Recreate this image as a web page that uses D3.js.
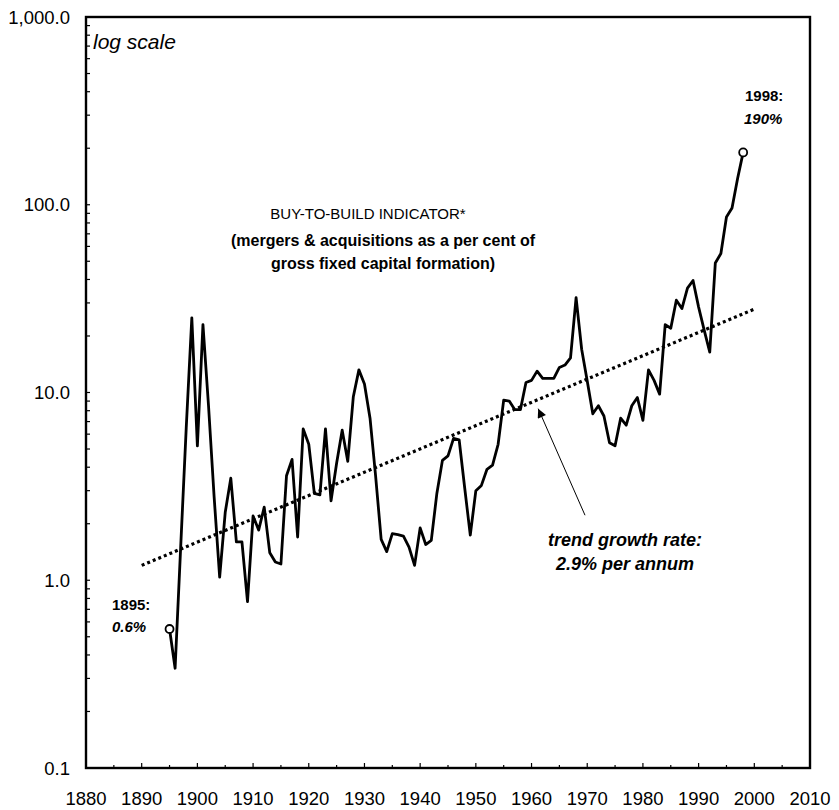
<!DOCTYPE html>
<html>
<head>
<meta charset="utf-8">
<script src="https://cdn.jsdelivr.net/npm/d3@7"></script>
<style>
  body { margin: 0; background: #fff; }
  svg text { font-family: "Liberation Sans", Arial, sans-serif; fill: #000; }
</style>
</head>
<body>
<div id="chart"></div>
<script>
const width = 839;
const height = 810;

// Séries
const years = [
  1895, 1896, 1897, 1898, 1899, 1900, 1901, 1902, 1903, 1904,
  1905, 1906, 1907, 1908, 1909, 1910, 1911, 1912, 1913, 1914,
  1915, 1916, 1917, 1918, 1919, 1920, 1921, 1922, 1923, 1924,
  1925, 1926, 1927, 1928, 1929, 1930, 1931, 1932, 1933, 1934,
  1935, 1936, 1937, 1938, 1939, 1940, 1941, 1942, 1943, 1944,
  1945, 1946, 1947, 1948, 1949, 1950, 1951, 1952, 1953, 1954,
  1955, 1956, 1957, 1958, 1959, 1960, 1961, 1962, 1963, 1964,
  1965, 1966, 1967, 1968, 1969, 1970, 1971, 1972, 1973, 1974,
  1975, 1976, 1977, 1978, 1979, 1980, 1981, 1982, 1983, 1984,
  1985, 1986, 1987, 1988, 1989, 1990, 1991, 1992, 1993, 1994,
  1995, 1996, 1997, 1998
];
const buyToBuild = [
  0.55, 0.34, 1.5, 6.5, 25, 5.2, 23, 8.5, 2.8, 1.04,
  2.3, 3.5, 1.6, 1.6, 0.77, 2.2, 1.85, 2.45, 1.4, 1.25,
  1.22, 3.6, 4.4, 1.7, 6.4, 5.3, 2.9, 2.85, 6.4, 2.65,
  4.2, 6.3, 4.3, 9.5, 13.2, 11.1, 7.3, 3.6, 1.65, 1.42,
  1.77, 1.75, 1.72, 1.5, 1.2, 1.9, 1.55, 1.63, 2.9, 4.35,
  4.6, 5.7, 5.6, 3.1, 1.74, 3.0, 3.2, 3.9, 4.1, 5.3,
  9.1, 9.0, 8.1, 8.1, 11.3, 11.6, 13.0, 11.9, 11.9, 11.9,
  13.6, 14.0, 15.3, 32, 17, 11.5, 7.7, 8.5, 7.5, 5.4,
  5.2, 7.3, 6.7, 8.5, 9.4, 7.1, 13.2, 11.6, 9.8, 23,
  22, 31, 28, 36, 39.5, 28.5, 21.5, 16.4, 49, 55,
  86, 96, 138, 190
];

// Tendance : 2,9 % par an
const trendYears = [1890, 2000];
const trendValues = [1.2, 27.8];

const yTicks = [0.1, 1, 10, 100, 1000];
const xTicks = d3.range(1880, 2011, 10);

const data = years.map((y, i) => ({ year: y, value: buyToBuild[i] }));

const svg = d3.select("#chart")
  .append("svg")
  .attr("width", width)
  .attr("height", height);

const x = d3.scaleLinear().domain([1880, 2010]).range([86, 810]);
const y = d3.scaleLog().domain([0.1, 1000]).range([768, 17]);

// Graduations mineures (log) sur l'axe vertical
const minorY = [];
[0.1, 1, 10, 100].forEach(d => {
  for (let k = 1; k <= 9; k++) minorY.push(d * k);
});
svg.append("g")
  .selectAll("line")
  .data(minorY)
  .join("line")
  .attr("x1", x(1880)).attr("x2", x(1880) + 4)
  .attr("y1", d => y(d)).attr("y2", d => y(d))
  .attr("stroke", "#000").attr("stroke-width", 1.2);

// Graduations horizontales tous les 5 ans
svg.append("g")
  .selectAll("line")
  .data(d3.range(1880, 2011, 5))
  .join("line")
  .attr("x1", d => x(d)).attr("x2", d => x(d))
  .attr("y1", y(0.1)).attr("y2", d => y(0.1) - (d % 10 === 0 ? 5 : 3))
  .attr("stroke", "#000").attr("stroke-width", 1.2);

// Cadre
svg.append("rect")
  .attr("x", x(1880)).attr("y", y(1000))
  .attr("width", x(2010) - x(1880))
  .attr("height", y(0.1) - y(1000))
  .attr("fill", "none")
  .attr("stroke", "#000")
  .attr("stroke-width", 2.4);

// Libellés des axes
svg.append("g")
  .selectAll("text")
  .data(yTicks)
  .join("text")
  .attr("x", 70)
  .attr("y", d => y(d) + 6.5)
  .attr("text-anchor", "end")
  .style("font-size", "18.5px")
  .text(d => d3.format(",.1f")(d));

svg.append("g")
  .selectAll("text")
  .data(xTicks)
  .join("text")
  .attr("x", d => x(d))
  .attr("y", 805)
  .attr("text-anchor", "middle")
  .style("font-size", "18.5px")
  .text(d => d);

// Ligne de tendance pointillée
const line = d3.line().x(d => x(d.year)).y(d => y(d.value));

svg.append("path")
  .datum(trendYears.map((t, i) => ({ year: t, value: trendValues[i] })))
  .attr("d", line)
  .attr("fill", "none")
  .attr("stroke", "#000")
  .attr("stroke-width", 3.2)
  .attr("stroke-dasharray", "3,3");

// Série principale
svg.append("path")
  .datum(data)
  .attr("d", line)
  .attr("fill", "none")
  .attr("stroke", "#000")
  .attr("stroke-width", 2.8)
  .attr("stroke-linejoin", "round");

// Points extrêmes
svg.append("g")
  .selectAll("circle")
  .data([data[0], data[data.length - 1]])
  .join("circle")
  .attr("cx", d => x(d.year))
  .attr("cy", d => y(d.value))
  .attr("r", 4)
  .attr("fill", "#fff")
  .attr("stroke", "#000")
  .attr("stroke-width", 1.8);

// Flèche vers la tendance
svg.append("defs").append("marker")
  .attr("id", "arrow")
  .attr("viewBox", "0 0 10 10")
  .attr("refX", 10).attr("refY", 5)
  .attr("markerWidth", 11).attr("markerHeight", 9)
  .attr("markerUnits", "userSpaceOnUse")
  .attr("orient", "auto")
  .append("path")
  .attr("d", "M0,0 L10,5 L0,10 Z")
  .attr("fill", "#000");

svg.append("line")
  .attr("x1", x(1969.6)).attr("y1", y(2.22))
  .attr("x2", x(1961.2)).attr("y2", y(8.2))
  .attr("stroke", "#000")
  .attr("stroke-width", 1)
  .attr("marker-end", "url(#arrow)");

// Textes
svg.append("text")
  .attr("x", 93).attr("y", 49)
  .style("font-size", "21px").style("font-style", "italic")
  .text("log scale");

svg.append("text")
  .attr("x", 368).attr("y", 219)
  .attr("text-anchor", "middle")
  .style("font-size", "15px")
  .text("BUY-TO-BUILD INDICATOR*");

svg.append("text")
  .attr("x", 383).attr("y", 246)
  .attr("text-anchor", "middle")
  .style("font-size", "16px").style("font-weight", "bold")
  .text("(mergers & acquisitions as a per cent of");

svg.append("text")
  .attr("x", 383).attr("y", 269)
  .attr("text-anchor", "middle")
  .style("font-size", "16px").style("font-weight", "bold")
  .text("gross fixed capital formation)");

svg.append("text")
  .attr("x", 625).attr("y", 546)
  .attr("text-anchor", "middle")
  .style("font-size", "18px").style("font-weight", "bold").style("font-style", "italic")
  .text("trend growth rate:");

svg.append("text")
  .attr("x", 625).attr("y", 570)
  .attr("text-anchor", "middle")
  .style("font-size", "18px").style("font-weight", "bold").style("font-style", "italic")
  .text("2.9% per annum");

svg.append("text")
  .attr("x", 112).attr("y", 610)
  .style("font-size", "15px").style("font-weight", "bold")
  .text("1895:");

svg.append("text")
  .attr("x", 112).attr("y", 632)
  .style("font-size", "15px").style("font-weight", "bold").style("font-style", "italic")
  .text("0.6%");

svg.append("text")
  .attr("x", 745).attr("y", 101)
  .style("font-size", "15px").style("font-weight", "bold")
  .text("1998:");

svg.append("text")
  .attr("x", 744).attr("y", 124)
  .style("font-size", "15px").style("font-weight", "bold").style("font-style", "italic")
  .text("190%");
</script>
</body>
</html>
